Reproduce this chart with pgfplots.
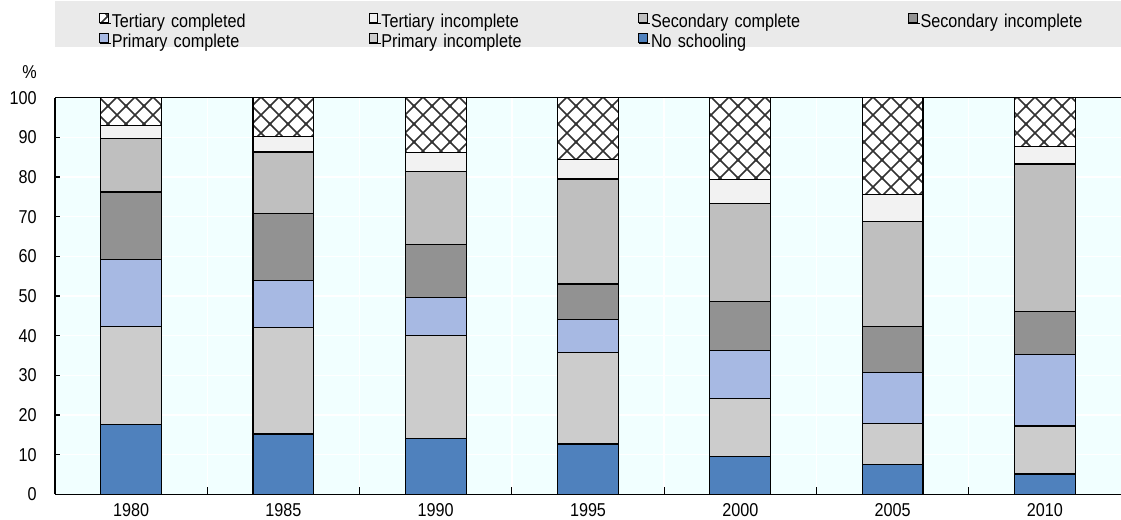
\documentclass[border=0pt]{standalone}
\usepackage{fontspec}
\setmainfont{Liberation Sans}[FakeStretch=0.87]
\usepackage{pgfplots}
\usepackage{pgfplotstable}
\pgfplotsset{compat=1.18}
\usetikzlibrary{patterns}

\definecolor{noschool}{RGB}{79,129,189}
\definecolor{primin}{RGB}{204,204,204}
\definecolor{primco}{RGB}{167,185,227}
\definecolor{secin}{RGB}{146,146,146}
\definecolor{secco}{RGB}{191,191,191}
\definecolor{terin}{RGB}{242,242,242}
\definecolor{plotbg}{RGB}{241,255,255}
\definecolor{legbg}{RGB}{234,234,234}
\definecolor{hatch}{RGB}{50,50,50}

% diagonal crosshatch, larger than the stock one
\pgfdeclarepatternformonly{diagcross}{\pgfqpoint{-1bp}{-1bp}}{\pgfqpoint{10bp}{10bp}}{\pgfqpoint{9bp}{9bp}}{%
  \pgfsetlinewidth{0.8bp}%
  \pgfpathmoveto{\pgfqpoint{-0.5bp}{-0.5bp}}\pgfpathlineto{\pgfqpoint{9.5bp}{9.5bp}}%
  \pgfpathmoveto{\pgfqpoint{-0.5bp}{9.5bp}}\pgfpathlineto{\pgfqpoint{9.5bp}{-0.5bp}}%
  \pgfusepath{stroke}}

% shares of population by level of education (%)
\pgfplotstableread{
x  ns   pi   pc   si   sc   ti  tc
0  17.6 24.7 17.0 16.9 13.6 3.1 7.1
1  15.2 26.8 12.0 16.8 15.5 3.9 9.8
2  14.1 26.0 9.6  13.2 18.4 4.8 13.9
3  12.7 23.0 8.4  8.9  26.5 4.9 15.6
4  9.6  14.6 12.0 12.4 24.8 5.9 20.7
5  7.6  10.2 13.0 11.6 26.4 6.7 24.5
6  5.1  12.1 18.1 10.8 37.2 4.3 12.4
}\edudata

\begin{document}
\fontsize{9.3bp}{11bp}\selectfont
\begin{tikzpicture}
  \fill[legbg] (0,223.8bp) rectangle (533bp,246.5bp);
  \node at (-12.75bp,211.15bp) {\%};
  \begin{axis}[
      at={(0,0)}, anchor=south west,
      scale only axis, width=533bp, height=198.3bp,
      ybar stacked, bar width=30.4bp,
      xmin=-0.5, xmax=6.5, ymin=0, ymax=100,
      enlarge x limits=false, enlarge y limits=false,
      axis lines=left, axis line style={-, black, line width=0.7bp},
      xtick={0,...,6},
      xticklabels={1980,1985,1990,1995,2000,2005,2010},
      minor xtick={0.5,1.5,...,5.5},
      ytick={0,10,...,100},
      tick align=inside,
      major tick length=2.5bp, minor tick length=3.5bp,
      major x tick style={draw=none},
      tick style={black, line width=0.6bp},
      ymajorgrids, xminorgrids,
      major grid style={white, line width=0.7bp},
      minor grid style={white, line width=0.7bp},
      axis background/.style={fill=plotbg},
      /pgf/number format/assume math mode=true,
      xticklabel style={anchor=north, inner sep=0pt, yshift=-4.2bp},
      yticklabel style={anchor=east, inner sep=0pt, xshift=-9bp},
      every axis plot/.append style={draw=black, line width=0.6bp},
      legend columns=4, reverse legend,
      legend cell align=left,
      legend image code/.code={
        \draw[#1, line width=0.5bp] (0bp,0.6bp) rectangle (4.3bp,5.1bp);
        \path (0bp,0bp) -- (5.8bp,0bp);
      },
      legend style={at={(0,1)}, anchor=north west, xshift=22bp, yshift=42.45bp,
        draw=none, fill=none, inner sep=0pt, outer sep=0pt,
        column sep=0pt, row sep=0pt,
        nodes={inner sep=0pt, text height=6.6bp, text depth=2.9bp,
          text width=128.4bp, anchor=west, align=left}},
    ]
    \addplot[fill=noschool] table[x=x, y=ns] {\edudata};
    \addlegendentry{No schooling}
    \addplot[fill=primin] table[x=x, y=pi] {\edudata};
    \addlegendentry{Primary incomplete}
    \addplot[fill=primco] table[x=x, y=pc] {\edudata};
    \addlegendentry{Primary complete}
    \addplot[fill=secin] table[x=x, y=si] {\edudata};
    \addlegendentry{Secondary incomplete}
    \addplot[fill=secco] table[x=x, y=sc] {\edudata};
    \addlegendentry{Secondary complete}
    \addplot[fill=terin] table[x=x, y=ti] {\edudata};
    \addlegendentry{Tertiary incomplete}
    \addplot[fill=white, postaction={pattern=diagcross, pattern color=hatch}] table[x=x, y=tc] {\edudata};
    \addlegendentry{Tertiary completed}
    \draw[black, line width=0.7bp] (rel axis cs:0,1) -- (rel axis cs:1,1);
  \end{axis}
  \pgfresetboundingbox
  \path[use as bounding box] (-27.5bp,-12.85bp) rectangle (533bp,247.15bp);
\end{tikzpicture}
\end{document}
